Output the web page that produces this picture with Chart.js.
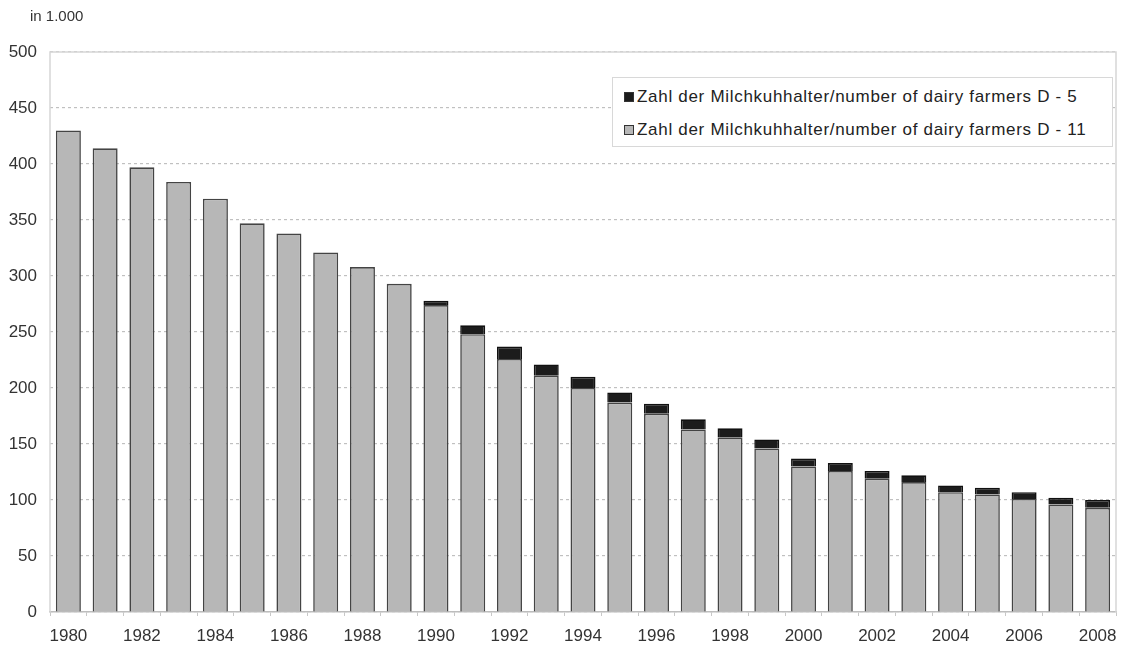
<!DOCTYPE html>
<html>
<head>
<meta charset="utf-8">
<script src="https://cdn.jsdelivr.net/npm/chart.js@4.4.0/dist/chart.umd.min.js"></script>
<style>
  html, body { margin: 0; padding: 0; background: #fff; }
  #wrap { position: relative; width: 1128px; height: 650px; }
  #legend {
    position: absolute; left: 612px; top: 77px; width: 501px; height: 70px;
    border: 1px solid #d8d8d8; background: #fff; box-sizing: border-box;
    font-family: "Liberation Sans", Arial, sans-serif; font-size: 17px; color: #222;
    letter-spacing: 0.7px;
  }
  #legend div { position: absolute; left: 11px; white-space: nowrap; }
  #legend span.box { display: inline-block; width: 10px; height: 10px; margin-right: 3px; box-sizing: border-box; border: 1px solid #333; vertical-align: 0; }
</style>
</head>
<body>
<div id="wrap">
  <canvas id="myChart" width="1128" height="650"></canvas>
  <div id="legend"></div>
</div>
<script>
// Daten
const years = [1980, 1981, 1982, 1983, 1984, 1985, 1986, 1987, 1988, 1989,
  1990, 1991, 1992, 1993, 1994, 1995, 1996, 1997, 1998, 1999,
  2000, 2001, 2002, 2003, 2004, 2005, 2006, 2007, 2008];
const farmersD11 = [430, 414, 397, 384, 369, 347, 338, 321, 308, 293,
  274, 248, 226, 211, 200, 187, 177, 163, 156, 146,
  130, 126, 119, 116, 107, 105, 101, 96, 93];
const farmersD5 = [null, null, null, null, null, null, null, null, null, null,
  4, 8, 11, 10, 10, 9, 9, 9, 8, 8,
  7, 7, 7, 6, 6, 6, 6, 6, 7];
const labelD5 = 'Zahl der Milchkuhhalter/number of dairy farmers D - 5';
const labelD11 = 'Zahl der Milchkuhhalter/number of dairy farmers D - 11';
const yTicks = [0, 50, 100, 150, 200, 250, 300, 350, 400, 450, 500];

const font = '"Liberation Sans", Arial, sans-serif';

// Rahmen um die Zeichenfläche und Einheit oben links
const frame = {
  id: 'frame',
  beforeDatasetsDraw(chart) {
    const { ctx, chartArea: a } = chart;
    ctx.save();
    ctx.strokeStyle = '#d6d6d6';
    ctx.lineWidth = 1.5;
    ctx.beginPath();
    ctx.moveTo(a.left, a.bottom);
    ctx.lineTo(a.left, a.top);
    ctx.lineTo(a.right, a.top);
    ctx.lineTo(a.right, a.bottom);
    ctx.stroke();
    ctx.restore();
  },
  afterDraw(chart) {
    const ctx = chart.ctx;
    ctx.save();
    ctx.fillStyle = '#333';
    ctx.font = '15px ' + font;
    ctx.textBaseline = 'middle';
    ctx.fillText('in 1.000', 30, 17);
    ctx.restore();
  }
};

const ctx = document.getElementById('myChart').getContext('2d');
const myChart = new Chart(ctx, {
  type: 'bar',
  data: {
    labels: years,
    datasets: [{
      label: labelD11,
      data: farmersD11,
      backgroundColor: '#b7b7b7',
      borderColor: '#444',
      borderWidth: 1.6,
      barPercentage: 0.68,
      categoryPercentage: 1
    }, {
      label: labelD5,
      data: farmersD5,
      backgroundColor: '#1c1c1c',
      borderColor: '#111',
      borderWidth: 1.6,
      barPercentage: 0.68,
      categoryPercentage: 1
    }]
  },
  options: {
    responsive: false,
    animation: false,
    layout: { padding: { top: 52, right: 12, left: 0, bottom: 0 } },
    plugins: {
      legend: { display: false },
      tooltip: { enabled: false }
    },
    scales: {
      x: {
        stacked: true,
        afterFit: (s) => { s.height = 38; },
        grid: { drawOnChartArea: false, drawTicks: true, tickLength: 4, color: '#c8c8c8' },
        border: { color: '#bdbdbd', width: 1.5 },
        ticks: {
          autoSkip: false, maxRotation: 0, padding: 10, color: '#333',
          font: { family: font, size: 17 },
          callback: (v, i) => (i % 2 === 0 ? years[i] : '')
        }
      },
      y: {
        stacked: true,
        min: 0,
        max: 500,
        afterFit: (s) => { s.width = 50; },
        afterBuildTicks: (s) => { s.ticks = yTicks.map(v => ({ value: v })); },
        grid: { drawTicks: false, color: '#c0c0c0', lineWidth: 1.2 },
        border: { display: false, dash: [3, 3] },
        ticks: { padding: 13, color: '#333', font: { family: font, size: 17 } }
      }
    }
  },
  plugins: [frame]
});

// Legende im Kasten oben rechts
const legend = document.getElementById('legend');
[[labelD5, 1, 9], [labelD11, 0, 42]].forEach(([text, idx, top]) => {
  const ds = myChart.data.datasets[idx];
  const row = document.createElement('div');
  row.style.top = top + 'px';
  const box = document.createElement('span');
  box.className = 'box';
  box.style.background = ds.backgroundColor;
  row.appendChild(box);
  row.appendChild(document.createTextNode(text));
  legend.appendChild(row);
});
</script>
</body>
</html>
